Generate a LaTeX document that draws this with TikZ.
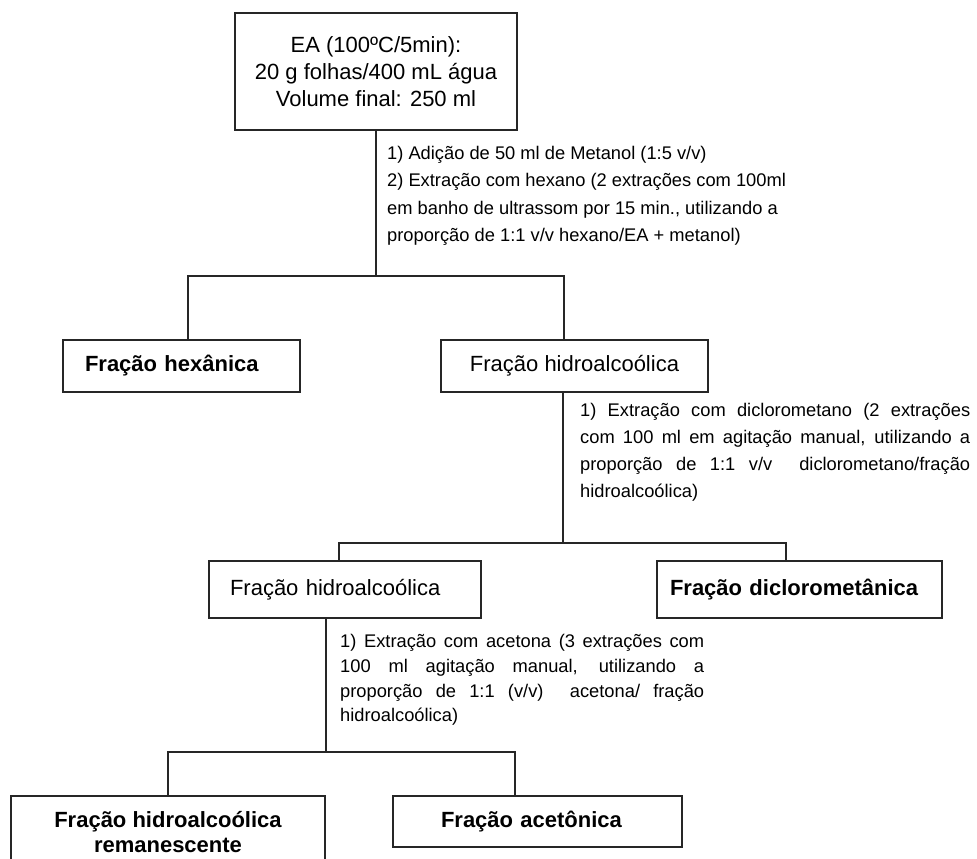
\documentclass[tikz,border=0pt]{standalone}
\usepackage{fontspec}
\setmainfont{Liberation Sans}
\begin{document}
\begin{tikzpicture}[x=1pt,y=-1pt,
  box/.style={draw=black!85, line width=1.2pt, inner sep=0pt},
  big/.style={font=\fontsize{22}{27}\selectfont},
  bigb/.style={font=\fontsize{22}{25}\selectfont\bfseries},
  lbl/.style={inner sep=0pt, align=left, anchor=west},
  ln/.style={draw=black!85, line width=1.2pt}]
\clip (0,0) rectangle (977,859);
% boxes
\node[box,big,minimum width=282pt,minimum height=117pt,align=center] (ea) at (376,71.5)
  {EA (100ºC/5min):\\ 20 g folhas/400 mL água\\ Volume final: 250 ml};
\node[box,bigb,minimum width=237pt,minimum height=52pt,text width=193pt,align=left] (hex) at (181.5,366) {Fração hexânica};
\node[box,big,minimum width=267pt,minimum height=52pt,align=center] (hid1) at (574.5,366) {Fração hidroalcoólica};
\node[box,big,minimum width=272pt,minimum height=57pt,text width=230pt,align=left] (hid2) at (345,589.5) {Fração hidroalcoólica};
\node[box,bigb,minimum width=285pt,minimum height=57pt,text width=259pt,align=left] (dic) at (799.5,589.5) {Fração diclorometânica};
\node[box,bigb,minimum width=314pt,minimum height=73pt,align=center] (rem) at (168,832.5) {Fração hidroalcoólica\\remanescente};
\node[box,bigb,minimum width=289pt,minimum height=51pt,text width=193pt,align=left] (ace) at (537.5,821.5) {Fração acetônica};
% labels
\node[lbl,font=\fontsize{18.3}{27.5}\selectfont] (l1) at (387,196)
  {1) Adição de 50 ml de Metanol (1:5 v/v)\\
   2) Extração com hexano (2 extrações com 100ml\\
   em banho de ultrassom por 15 min., utilizando a\\
   proporção de 1:1 v/v hexano/EA + metanol)};
\node[lbl,font=\fontsize{18.3}{27}\selectfont] (l2) at (580,452.5)
  {\makebox[390pt][s]{1) Extração com diclorometano (2 extrações}\\
   \makebox[390pt][s]{com 100 ml em agitação manual, utilizando a}\\
   \makebox[390pt][s]{proporção de 1:1 v/v\ \ diclorometano/fração}\\
   hidroalcoólica)};
\node[lbl,font=\fontsize{18.3}{24.7}\selectfont] (l3) at (340,680)
  {\makebox[364pt][s]{1) Extração com acetona (3 extrações com}\\
   \makebox[364pt][s]{100 ml agitação manual, utilizando a}\\
   \makebox[364pt][s]{proporção de 1:1 (v/v)\ \ acetona/ fração}\\
   hidroalcoólica)};
% connectors
\coordinate (j1) at (376,276);
\coordinate (j1a) at (188,276);
\coordinate (j1b) at (564,276);
\draw[ln] (ea.south) -- (j1);
\draw[ln] (hex.north -| j1a) -- (j1a) -- (j1b) -- (j1b |- hid1.north);
\coordinate (j2) at (563,543);
\coordinate (j2a) at (339,543);
\coordinate (j2b) at (786,543);
\draw[ln] (hid1.south -| j2) -- (j2);
\draw[ln] (hid2.north -| j2a) -- (j2a) -- (j2b) -- (j2b |- dic.north);
\coordinate (j3) at (326,752);
\coordinate (j3a) at (168,752);
\coordinate (j3b) at (515,752);
\draw[ln] (hid2.south -| j3) -- (j3);
\draw[ln] (rem.north) -- (j3a) -- (j3b) -- (j3b |- ace.north);
\end{tikzpicture}
\end{document}
